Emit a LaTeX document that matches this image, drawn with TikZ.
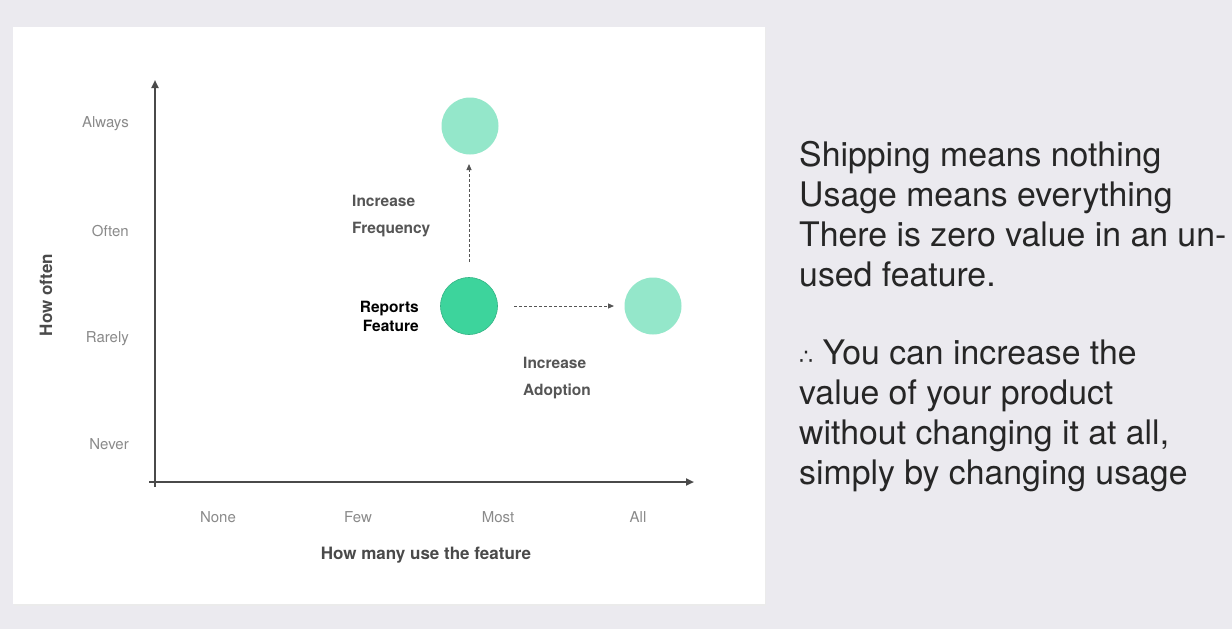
\documentclass[tikz,border=0pt]{standalone}
\usepackage{fontspec}
\setmainfont{TeX Gyre Heros}
\newfontfamily\symfont{DejaVu Sans}
\usetikzlibrary{arrows.meta}
\definecolor{bgcol}{HTML}{EBEAEF}
\definecolor{axiscol}{HTML}{4A4A4A}
\definecolor{ticklab}{HTML}{8A8A8A}
\definecolor{labcol}{HTML}{555555}
\definecolor{darkgreen}{HTML}{3DD49C}
\definecolor{lightgreen}{HTML}{94E7CA}
\definecolor{bodytext}{HTML}{262626}
\tikzset{
  axis/.style={draw=axiscol, line width=2.4pt, -{Triangle[length=8pt,width=7pt]}},
  ticklabel/.style={text=ticklab, font=\fontsize{15}{18}\selectfont, inner sep=0pt},
  boldlabel/.style={text=labcol, font=\bfseries\fontsize{15.5}{27}\selectfont, inner sep=0pt, align=left},
  axistitle/.style={text=axiscol, font=\bfseries\fontsize{17}{20}\selectfont, inner sep=0pt},
  bubble/.style={circle, minimum size=57pt, inner sep=0pt},
  move/.style={draw=labcol, line width=1pt, dash pattern=on 3pt off 2pt, -{Triangle[length=6pt,width=5pt]}},
  body/.style={text=bodytext, font=\fontsize{33.8}{40}\selectfont, inner sep=0pt, anchor=north west, align=left},
}
\begin{document}
\begin{tikzpicture}[x=1pt,y=-1pt]
  % page and slide card
  \fill[bgcol] (0,0) rectangle (1232,629);
  \fill[black!8] (14,28) rectangle (766,606);
  \fill[white] (13,27) rectangle (765,604);
  \useasboundingbox (0,0) rectangle (1232,629);

  % axes
  \coordinate (ytop) at (155,80);
  \coordinate (xend) at (694,482);
  \coordinate (ybot) at (155,487);
  \coordinate (xbeg) at (149,482);
  \draw[axis] (ybot) -- (ytop);
  \draw[axis] (xbeg) -- (xend);

  % frequency levels
  \node[ticklabel, anchor=east] (always) at (129,124) {Always};
  \node[ticklabel, anchor=east] (often) at (129,231) {Often};
  \node[ticklabel, anchor=east] (rarely) at (129,339) {Rarely};
  \node[ticklabel, anchor=east] (never) at (129,444) {Never};
  \node[axistitle, rotate=90] (ytitle) at (46,295) {How often};

  % adoption levels
  \node[ticklabel] (none) at (218,517) {None};
  \node[ticklabel] (few) at (358,517) {Few};
  \node[ticklabel] (most) at (498,517) {Most};
  \node[ticklabel] (all) at (638,517) {All};
  \node[axistitle] (xtitle) at (426,555) {How many use the feature};

  % feature positions
  \node[bubble, fill=darkgreen, draw=darkgreen!85!black, line width=0.6pt] (reports) at (469,306) {};
  \node[bubble, fill=lightgreen] (freq) at (470,126) {};
  \node[bubble, fill=lightgreen] (adopt) at (653,306) {};

  % moves
  \coordinate (vstart) at (469,262);
  \coordinate (vend) at (469,164);
  \coordinate (hstart) at (514,306);
  \coordinate (hend) at (614,306);
  \draw[move] (vstart) -- (vend);
  \draw[move] (hstart) -- (hend);

  \node[boldlabel, anchor=north west] (freqlab) at (352,195) {Increase\\Frequency};
  \node[boldlabel, anchor=north west] (adoptlab) at (523,357) {Increase\\Adoption};
  \node[text=black, font=\bfseries\fontsize{15.5}{19}\selectfont, inner sep=0pt, align=right, anchor=east] (rlab) at (419,316) {Reports\\Feature};

  % commentary
  \node[body] (para1) at (799,141) {Shipping means nothing\\Usage means everything\\There is zero value in an un-\\used feature.};
  \node[body] (para2) at (799,340) {{\symfont\fontsize{22}{40}\selectfont ∴} You can increase the\\value of your product\\without changing it at all,\\simply by changing usage};
\end{tikzpicture}
\end{document}
